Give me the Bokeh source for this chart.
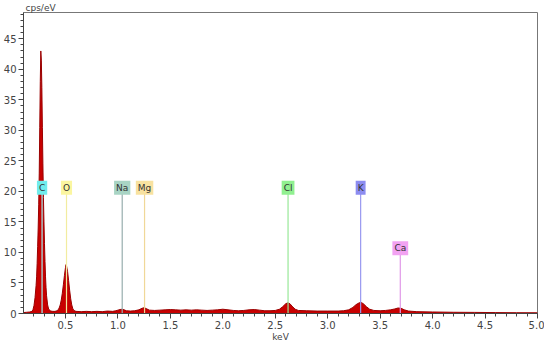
from bokeh.plotting import figure
from bokeh.models import Range1d, SingleIntervalTicker, PrintfTickFormatter, Label
from bokeh.embed import file_html
from bokeh.resources import INLINE

# EDS spectrum (keV, cps/eV)
energy_kev = [0.10, 0.13, 0.16, 0.18, 0.19, 0.20, 0.21, 0.22, 0.225, 0.23, 0.235, 0.24, 0.245,
              0.25, 0.255, 0.26, 0.265, 0.27, 0.275, 0.28, 0.285, 0.29, 0.295, 0.30, 0.305,
              0.31, 0.315, 0.32, 0.33, 0.34, 0.36, 0.38, 0.40, 0.42, 0.43, 0.44, 0.45, 0.46,
              0.47, 0.48, 0.49, 0.50, 0.505, 0.51, 0.52, 0.53, 0.54, 0.55, 0.56, 0.57, 0.58,
              0.60, 0.65, 0.70, 0.75, 0.80, 0.85, 0.90, 0.95, 0.98, 1.00, 1.02, 1.04, 1.06,
              1.08, 1.12, 1.16, 1.20, 1.23, 1.25, 1.27, 1.30, 1.35, 1.40, 1.45, 1.50, 1.55,
              1.60, 1.65, 1.70, 1.75, 1.80, 1.85, 1.90, 1.95, 2.00, 2.05, 2.10, 2.15, 2.20,
              2.25, 2.30, 2.35, 2.40, 2.45, 2.50, 2.54, 2.57, 2.60, 2.62, 2.64, 2.66, 2.69,
              2.72, 2.80, 2.90, 3.00, 3.10, 3.15, 3.20, 3.24, 3.27, 3.30, 3.32, 3.34, 3.37,
              3.40, 3.44, 3.50, 3.55, 3.60, 3.64, 3.67, 3.70, 3.73, 3.77, 3.85, 4.00, 4.20,
              4.40, 4.60, 4.80, 5.00]
counts_cps_ev = [0.15, 0.2, 0.25, 0.35, 0.6, 1.3, 2.6, 4.6, 6.0, 8.2, 11.0, 14.0, 17.8,
                 23.0, 30.5, 38.0, 43.0, 41.5, 37.0, 30.5, 24.5, 19.0, 15.0, 11.5, 8.5,
                 6.0, 4.2, 2.9, 1.4, 0.7, 0.4, 0.35, 0.35, 0.45, 0.6, 0.9, 1.4, 2.2,
                 3.3, 4.7, 6.2, 7.5, 8.0, 7.8, 6.9, 5.4, 3.8, 2.4, 1.4, 0.8, 0.5,
                 0.35, 0.3, 0.35, 0.3, 0.35, 0.3, 0.4, 0.35, 0.45, 0.55, 0.65, 0.7, 0.6,
                 0.45, 0.4, 0.45, 0.6, 0.85, 0.95, 0.8, 0.55, 0.5, 0.55, 0.6, 0.65, 0.6,
                 0.55, 0.6, 0.55, 0.6, 0.55, 0.5, 0.55, 0.6, 0.7, 0.6, 0.5, 0.45, 0.5,
                 0.6, 0.65, 0.55, 0.45, 0.45, 0.5, 0.7, 1.1, 1.6, 1.75, 1.6, 1.2, 0.7,
                 0.5, 0.45, 0.4, 0.4, 0.4, 0.45, 0.6, 1.0, 1.45, 1.75, 1.8, 1.6, 1.1,
                 0.7, 0.5, 0.45, 0.5, 0.6, 0.75, 0.9, 0.85, 0.6, 0.4, 0.3, 0.25, 0.2,
                 0.18, 0.15, 0.13, 0.12]

# Element markers
elements = ["C", "O", "Na", "Mg", "Cl", "K", "Ca"]
element_kev = [0.277, 0.51, 1.041, 1.254, 2.622, 3.314, 3.692]
label_cps = [20.6, 20.6, 20.6, 20.6, 20.6, 20.6, 10.7]
line_colors = ["#a0f4f4", "#f2eca0", "#98aeae", "#f0d898", "#98e898", "#9898f0", "#e098e8"]
label_colors = ["#70ecec", "#fbf6a0", "#a8d4c4", "#f8e2a0", "#90f090", "#8c8cf0", "#f2a2f2"]

FONT = "DejaVu Sans"

p = figure(width=544, height=344, output_backend="svg", toolbar_location=None,
           x_range=Range1d(0.1, 5.0), y_range=Range1d(0, 49.3),
           min_border_left=0, min_border_right=7, min_border_top=0, min_border_bottom=0,
           background_fill_color="white", border_fill_color="white")

p.title.text = "cps/eV"
p.title.align = "left"
p.title.text_font = FONT
p.title.text_font_size = "9px"
p.title.text_font_style = "normal"
p.title.text_color = "#444444"
p.title.standoff = 0
p.title.offset = 2

p.xgrid.visible = False
p.ygrid.visible = False
p.outline_line_color = "#777777"

p.varea(x=energy_kev, y1=0, y2=counts_cps_ev, fill_color="#c80000")
p.line(x=energy_kev, y=counts_cps_ev, line_color="#9a0000", line_width=1)

p.segment(x0=element_kev, y0=[0] * len(elements), x1=element_kev, y1=label_cps,
          line_color=line_colors, line_width=1.2)

for name, xk, yk, bg in zip(elements, element_kev, label_cps, label_colors):
    p.add_layout(Label(x=xk, y=yk, text=name, text_align="center", text_baseline="middle",
                       text_font=FONT, text_font_size="9px", text_color="#333333",
                       background_fill_color=bg, padding=2))

p.xaxis.ticker = SingleIntervalTicker(interval=0.5, num_minor_ticks=5)
p.xaxis.formatter = PrintfTickFormatter(format="%.1f")
p.yaxis.ticker = SingleIntervalTicker(interval=5, num_minor_ticks=5)
p.xaxis.axis_label = "keV"

for ax in (p.xaxis, p.yaxis):
    ax.axis_line_color = "#444444"
    ax.major_tick_line_color = "#444444"
    ax.minor_tick_line_color = "#444444"
    ax.major_tick_in = 0
    ax.major_tick_out = 5
    ax.minor_tick_in = 0
    ax.minor_tick_out = 3
    ax.major_label_text_font = FONT
    ax.major_label_text_font_size = "10px"
    ax.major_label_text_color = "#444444"
    ax.major_label_standoff = 2
    ax.axis_label_text_font = FONT
    ax.axis_label_text_font_size = "9px"
    ax.axis_label_text_font_style = "normal"
    ax.axis_label_text_color = "#444444"
    ax.axis_label_standoff = 0

open("out.html", "w").write(file_html(p, INLINE))
